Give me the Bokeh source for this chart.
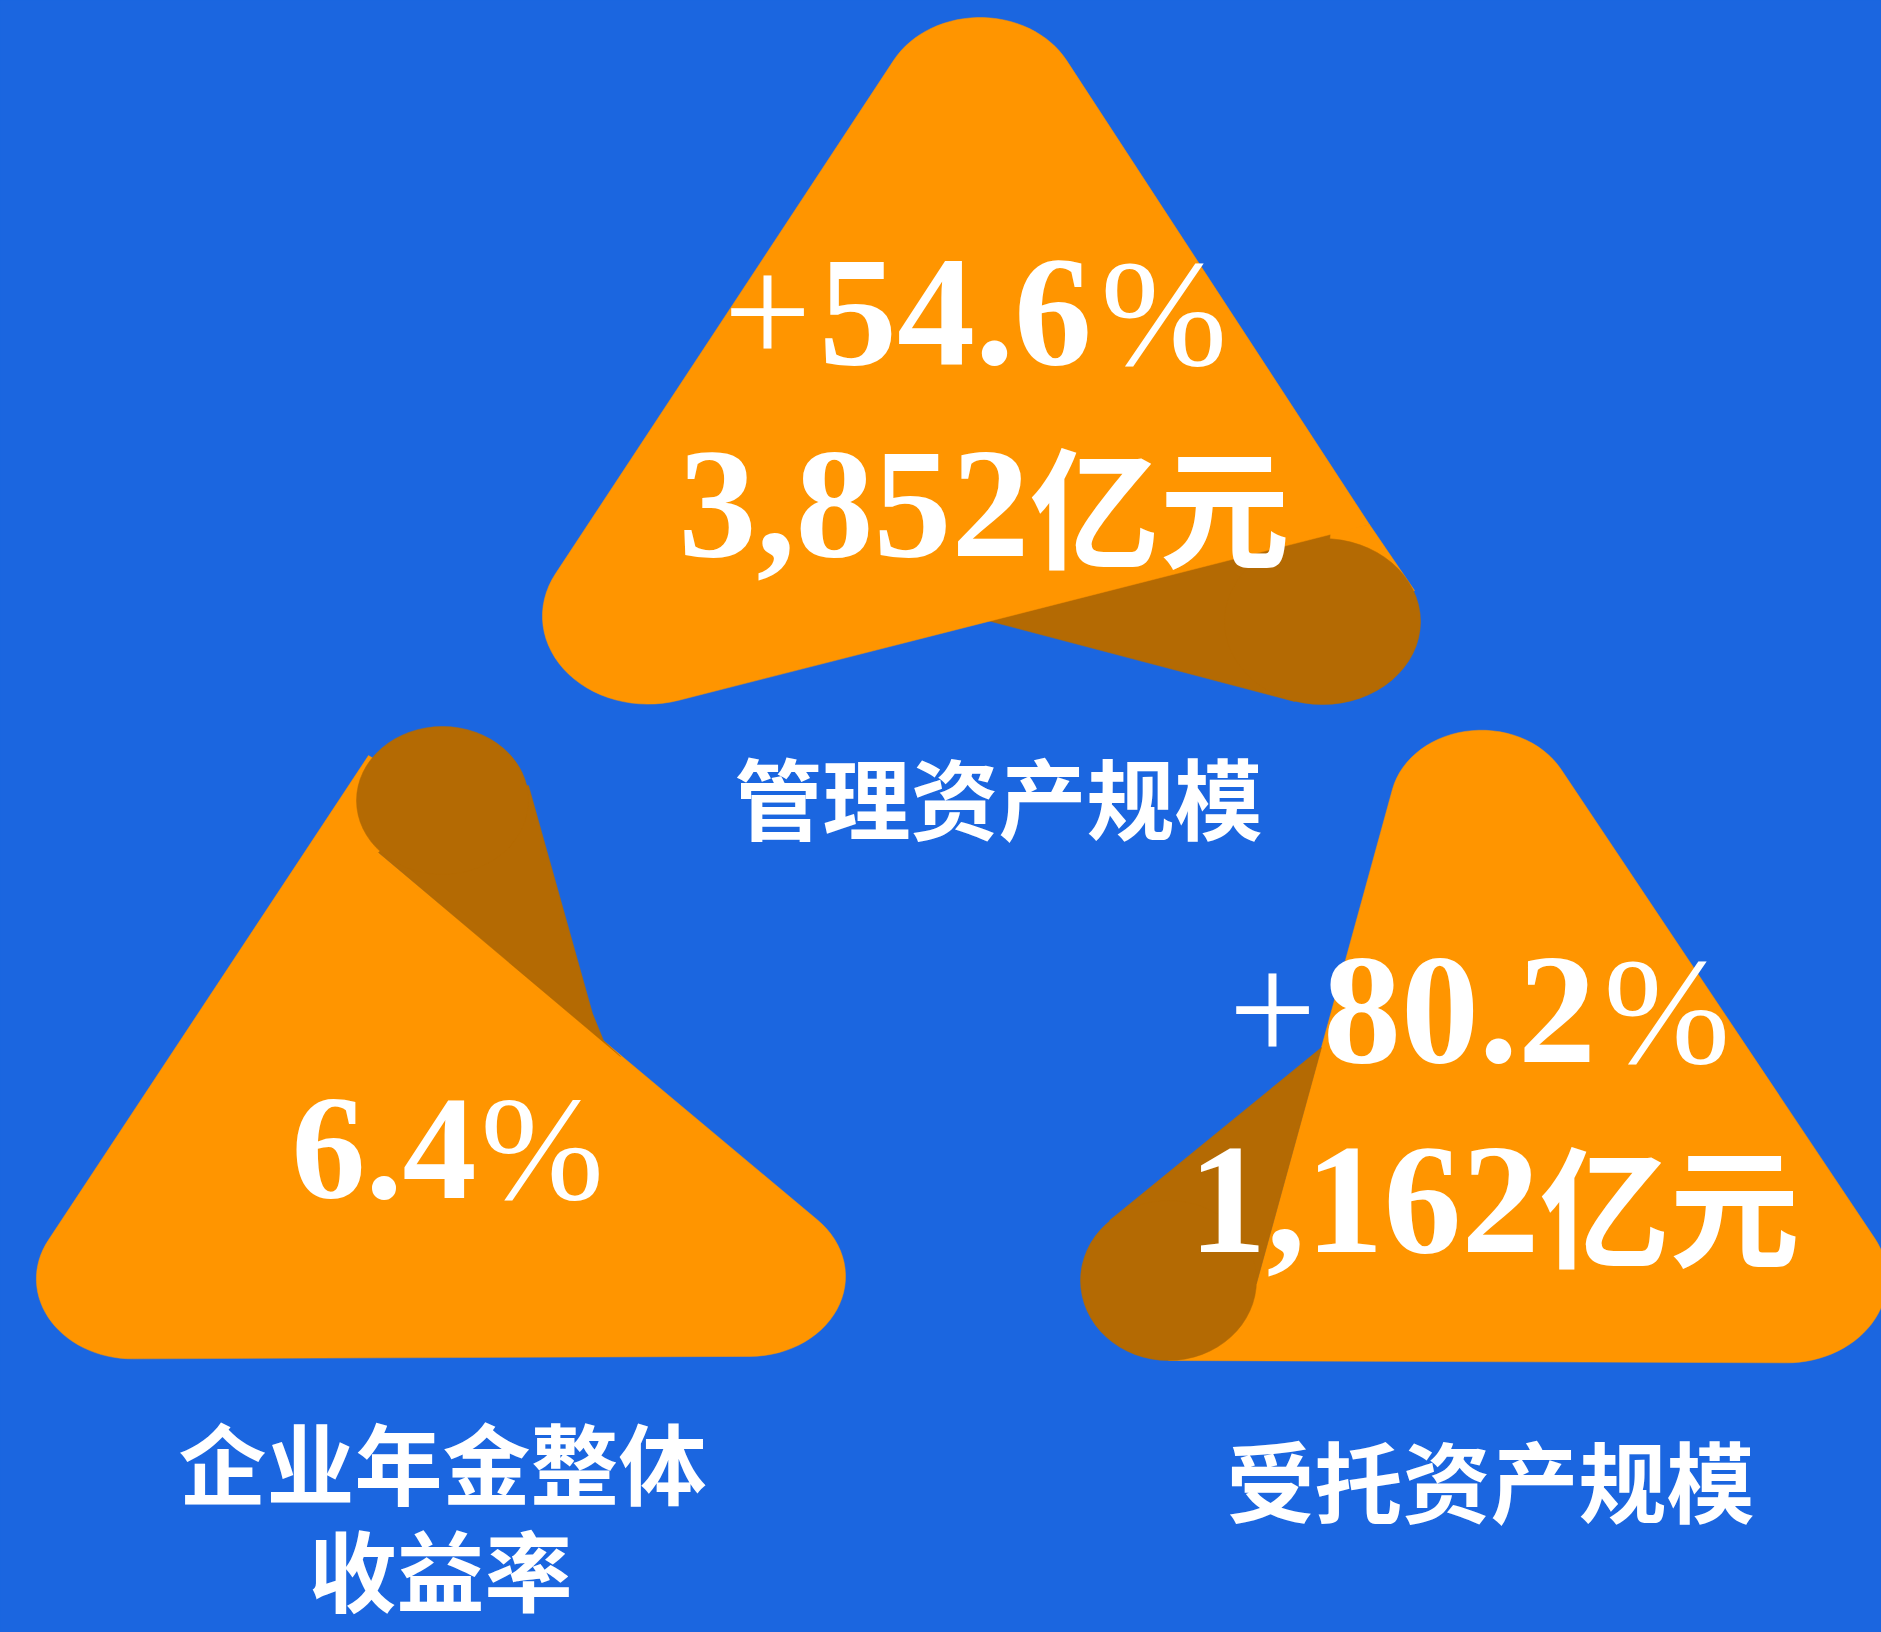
import re
import numpy as np
from bokeh.plotting import figure
from bokeh.models import Range1d
from bokeh.core.properties import value
from bokeh.embed import file_html
from bokeh.resources import INLINE

# ---------------- data ----------------
metric_names = ["管理资产规模", "企业年金整体", "收益率", "受托资产规模"]
growth_rates = ["+54.6%", "+80.2%"]
headline_values = ["3,852亿元", "6.4%", "1,162亿元"]

# ---------------- colours ----------------
BLUE = "#1B66E0"
ORANGE = "#FF9500"
DARK = "#B46A03"

# ---------------- shape outlines (page px, y down) ----------------
# corners are rounded in a space squeezed horizontally by SX
SX = 1.2
top_front = [(980, -72), (430, 763), (1369, 524)]
top_front_r = [82, 88, 0]
top_wedge = [(1250, 548), (1369, 524), (1414, 590), (1322, 621)]
top_flap = [(983, 619), (1294, 701), (1322, 621), (1330, 530)]
top_curl = (1322, 621, 196, 166)

bl_front = [(368, 755), (-31, 1359), (979, 1355), (378, 852), (442, 800)]
bl_front_r = [0, 80, 80, 0, 0]
bl_flap = [(528, 785), (592, 1013), (603, 1040), (620, 1056), (378, 852), (442, 800)]
bl_curl = (442, 800, 172, 148)

br_front = [(1445, 596), (1256, 1283), (1168, 1360), (1958, 1363)]
br_front_r = [76, 0, 0, 84]
br_flap = [(1321, 1047), (1109, 1220), (1168, 1280), (1256, 1283)]
br_curl = (1168, 1280, 176, 160)

# ---------------- text layout ----------------
# growth: (sign right x, number centre x, percent left x, baseline y)
growth_layout = [(811, 955, 1100, 366), (1316, 1459, 1603, 1064)]
# headline: (split x, baseline y, unit ink-centre y, number size)
headline_layout = [(1029, 558, 505, 156), (476, 1200, 1152, 148), (1539, 1254, 1204, 156)]
# labels: (centre x, centre y)
label_layout = [(998, 794), (442, 1459), (440, 1566), (1490, 1477)]


def rounded(verts, radii, n=32):
    P = np.array([[x / SX, y] for x, y in verts], float)
    N = len(P)
    xs, ys = [], []
    for i in range(N):
        p = P[i]
        r = radii[i]
        if r <= 0:
            xs.append(p[0] * SX)
            ys.append(p[1])
            continue
        a = P[i - 1] - p
        b = P[(i + 1) % N] - p
        a = a / np.linalg.norm(a)
        b = b / np.linalg.norm(b)
        theta = np.arccos(np.clip(a @ b, -1, 1))
        bis = a + b
        bis = bis / np.linalg.norm(bis)
        c = p + bis * r / np.sin(theta / 2)
        t1 = p + a * r / np.tan(theta / 2)
        t2 = p + b * r / np.tan(theta / 2)
        a1 = np.arctan2(t1[1] - c[1], t1[0] - c[0])
        a2 = np.arctan2(t2[1] - c[1], t2[0] - c[0])
        da = (a2 - a1 + np.pi) % (2 * np.pi) - np.pi
        for t in np.linspace(0, 1, n):
            ang = a1 + da * t
            xs.append((c[0] + r * np.cos(ang)) * SX)
            ys.append(c[1] + r * np.sin(ang))
    return xs, ys


def sharp(verts):
    return [v[0] for v in verts], [v[1] for v in verts]


W, H = 1881, 1632
p = figure(width=W, height=H, x_range=Range1d(0, W), y_range=Range1d(H, 0),
           output_backend="svg", toolbar_location=None,
           x_axis_type=None, y_axis_type=None, min_border=0)
p.background_fill_color = BLUE
p.border_fill_color = BLUE
p.outline_line_color = None
p.grid.visible = False


def patch(xy, color):
    p.patch(xy[0], xy[1], fill_color=color, line_color=color, line_width=0.5)


def curl(e):
    p.ellipse(x=[e[0]], y=[e[1]], width=[e[2]], height=[e[3]],
              fill_color=DARK, line_color=DARK, line_width=0.5)


# top triangle
patch(sharp(top_wedge), ORANGE)
patch(sharp(top_flap), DARK)
curl(top_curl)
patch(rounded(top_front, top_front_r), ORANGE)

# bottom-left triangle
patch(rounded(bl_front, bl_front_r), ORANGE)
patch(sharp(bl_flap), DARK)
curl(bl_curl)

# bottom-right triangle
patch(rounded(br_front, br_front_r), ORANGE)
patch(sharp(br_flap), DARK)
curl(br_curl)

SERIF = value("Liberation Serif")
CJK = value("Noto Sans CJK SC")
BASE_SHIFT = 0.345  # alphabetic baseline correction (em)


def serif(x, baseline, txt, size, style, align):
    p.text(x=[x], y=[baseline - BASE_SHIFT * size], text=[txt],
           text_font=SERIF, text_font_size=value(f"{size}px"), text_font_style=style,
           text_color="white", text_align=align, text_baseline="alphabetic")


def cjk(x, cy, txt, size, align):
    p.text(x=[x], y=[cy - 5], text=[txt],
           text_font=CJK, text_font_size=value(f"{size}px"), text_font_style="bold",
           text_color="white", text_align=align, text_baseline="middle")


# growth rates: thin sign and percent, bold number
for s, (sx, cx, px, base) in zip(growth_rates, growth_layout):
    serif(sx, base, s[0], 156, "normal", "right")
    serif(cx, base, s[1:-1], 156, "bold", "center")
    serif(px, base, s[-1], 152, "normal", "left")

# headline values: bold number followed by unit
for s, (x, base, ucy, size) in zip(headline_values, headline_layout):
    m = re.match(r"([0-9.,]+)(.*)", s)
    num, unit = m.group(1), m.group(2)
    serif(x, base, num, size, "bold", "right")
    if unit == "%":
        serif(x + 4, base, unit, 148, "normal", "left")
    elif unit:
        cjk(x, ucy, unit, 130, "left")

# metric names
for s, (x, y) in zip(metric_names, label_layout):
    cjk(x, y + 5, s, 88, "center")

template = """
{% block postamble %}
<style>html, body { background: #1B66E0; }</style>
{% endblock %}
"""
open("out.html", "w").write(file_html(p, INLINE, template=template))
